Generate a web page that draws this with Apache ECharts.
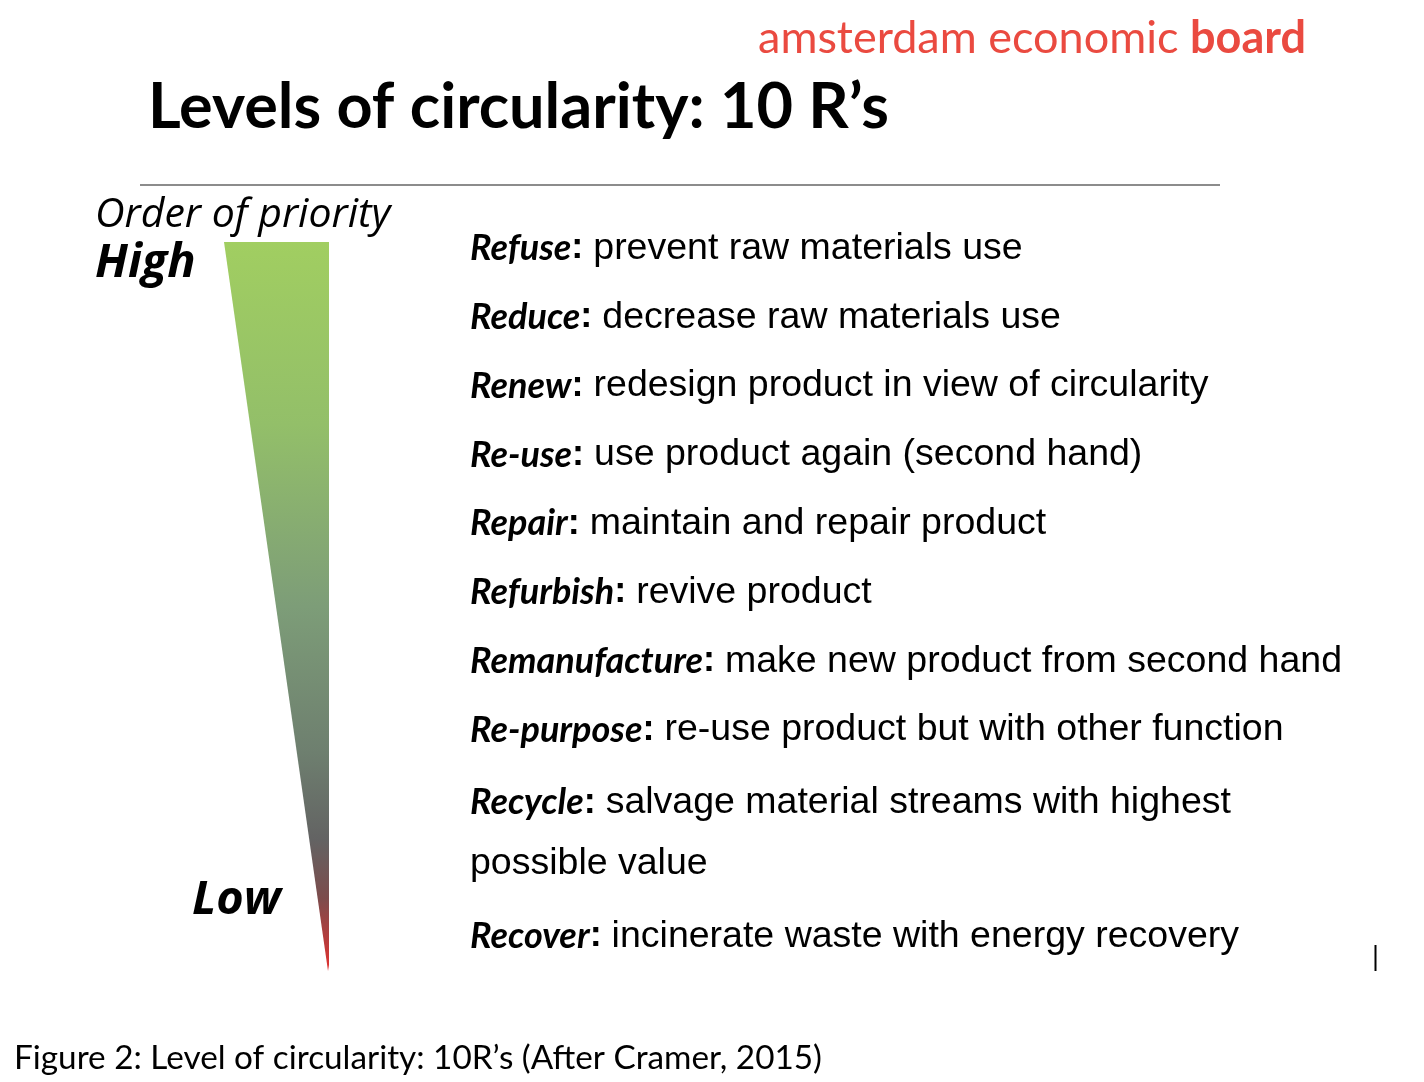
<!DOCTYPE html>
<html>
<head>
<meta charset="utf-8">
<script src="https://cdn.jsdelivr.net/npm/echarts@6/dist/echarts.min.js"></script>
<style>
  html, body { margin: 0; padding: 0; background: #ffffff; }
  #chart { width: 1424px; height: 1082px; }
</style>
</head>
<body>
<div id="chart"></div>
<script>
// ---- data ----
const rNames = ['Refuse', 'Reduce', 'Renew', 'Re-use', 'Repair', 'Refurbish',
  'Remanufacture', 'Re-purpose', 'Recycle', 'Recover'];
const rDescriptions = [
  'prevent raw materials use',
  'decrease raw materials use',
  'redesign product in view of circularity',
  'use product again (second hand)',
  'maintain and repair product',
  'revive product',
  'make new product from second hand',
  're-use product but with other function',
  'salvage material streams with highest\npossible value',
  'incinerate waste with energy recovery'
];
const priorityLabels = ['High', 'Low'];
const titleText = 'Levels of circularity: 10 R\u2019s';
const axisTitle = 'Order of priority';
const logoLight = 'amsterdam economic ';
const logoBold = 'board';
const captionText = 'Figure 2: Level of circularity: 10R\u2019s (After Cramer, 2015)';

// text-flow line positions: each R takes as many lines as its description
const rowPos = [];
(function () {
  let line = 0;
  rDescriptions.forEach(function (d) {
    const n = d.split('\n').length;
    rowPos.push(line + (n - 1) / 2);
    line += n;
  });
})();
const totalLines = rowPos[rowPos.length - 1] + 1;

const chart = echarts.init(document.getElementById('chart'), null, { renderer: 'canvas' });

const LINE = 68.8;      // px per text line
const FIRST = 248.5;    // px of first line
const H = 1082;

const textData = rNames.map(function (n, i) { return [470, rowPos[i], i]; });

const option = {
  backgroundColor: '#ffffff',
  animation: false,
  grid: { left: 0, right: 0, top: 0, bottom: 0 },
  xAxis: { type: 'value', min: 0, max: 1424, show: false },
  yAxis: {
    type: 'value', inverse: true, show: false,
    min: -FIRST / LINE, max: (H - FIRST) / LINE
  },
  series: [
    {
      type: 'custom',
      name: 'priority',
      data: [[0, totalLines - 1]],
      renderItem: function (params, api) {
        const top = api.coord([329, -0.095]);
        const topLeft = api.coord([224, -0.095]);
        const tip = api.coord([328, api.value(1) + 0.5]);
        return {
          type: 'polygon',
          shape: { points: [topLeft, top, [top[0], tip[1] - 6], tip] },
          style: {
            fill: new echarts.graphic.LinearGradient(0, 0, 0, 1, [
              { offset: 0, color: '#a1ce61' },
              { offset: 0.25, color: '#93bf69' },
              { offset: 0.5, color: '#7d9d78' },
              { offset: 0.7, color: '#6e7f6f' },
              { offset: 0.82, color: '#636363' },
              { offset: 0.9, color: '#7c4c4c' },
              { offset: 1, color: '#e2302f' }
            ])
          }
        };
      }
    },
    {
      type: 'scatter',
      name: 'Rs',
      symbolSize: 0,
      itemStyle: { opacity: 1 },
      data: textData,
      label: {
        show: true,
        position: 'right',
        distance: 0,
        color: '#000',
        formatter: function (p) {
          const i = p.data[2];
          const lines = rDescriptions[i].split('\n');
          let s = '{n|' + rNames[i] + '}{c|: }{d|' + lines[0] + '}';
          for (let k = 1; k < lines.length; k++) s += '\n{d|' + lines[k] + '}';
          return s;
        },
        rich: {
          n: { fontFamily: 'Lato', fontStyle: 'italic', fontWeight: 'bold', fontSize: 36, color: '#000', lineHeight: 61 },
          c: { fontFamily: 'Liberation Sans', fontWeight: 'bold', fontSize: 36, color: '#000', lineHeight: 61 },
          d: { fontFamily: 'Liberation Sans', fontSize: 37.5, color: '#000', lineHeight: 61 }
        }
      }
    }
  ],
  graphic: [
    {
      type: 'text', right: 1424 - 1306, top: 16,
      style: {
        text: '{a|' + logoLight + '}{b|' + logoBold + '}',
        rich: {
          a: { fontFamily: 'Lato', fontSize: 45, fill: '#ea4a40' },
          b: { fontFamily: 'Lato', fontWeight: 'bold', fontSize: 45, fill: '#ea4a40' }
        }
      }
    },
    {
      type: 'text', left: 148, top: 76,
      style: { text: titleText, fontFamily: 'Lato', fontWeight: 'bold', fontSize: 63, fill: '#000' }
    },
    {
      type: 'line', shape: { x1: 140, y1: 185, x2: 1220, y2: 185 },
      style: { stroke: '#8c8c8c', lineWidth: 2 }
    },
    {
      type: 'text', left: 95, top: 195,
      style: { text: axisTitle, fontFamily: 'Open Sans', fontStyle: 'italic', fontSize: 41, fill: '#000' }
    },
    {
      type: 'text', left: 95, top: 240,
      style: { text: priorityLabels[0], fontFamily: 'Open Sans', fontStyle: 'italic', fontWeight: 'bold', fontSize: 47, fill: '#000' }
    },
    {
      type: 'text', left: 192, top: 877,
      style: { text: priorityLabels[1], fontFamily: 'Open Sans', fontStyle: 'italic', fontWeight: 'bold', fontSize: 47, fill: '#000' }
    },
    {
      type: 'line', shape: { x1: 1375.5, y1: 945, x2: 1375.5, y2: 971 },
      style: { stroke: '#000', lineWidth: 2 }
    },
    {
      type: 'text', left: 14, top: 1042,
      style: { text: captionText, fontFamily: 'Lato', fontSize: 33.3, fill: '#000' }
    }
  ]
};
chart.setOption(option);
</script>
</body>
</html>
